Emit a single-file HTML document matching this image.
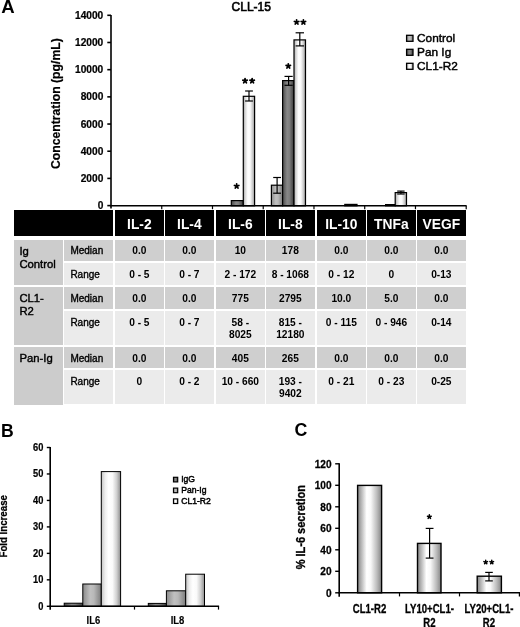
<!DOCTYPE html>
<html><head><meta charset="utf-8"><title>CLL-15 cytokine figure</title>
<style>
*{margin:0;padding:0;box-sizing:border-box}
html,body{width:520px;height:627px;overflow:hidden;background:#fff}
body{-webkit-font-smoothing:antialiased}
svg,.c{will-change:transform}
body{position:relative;font-family:"Liberation Sans", sans-serif;color:#000}
.c{position:absolute}
.h{color:#fff;font-weight:bold;font-size:13.8px;text-align:center;line-height:16px;padding-top:6.6px}
.d{font-weight:bold;font-size:10.2px;text-align:center;line-height:11.3px;padding-top:5.4px}
.l{font-size:10px;line-height:11.5px;padding-top:5.4px;padding-left:6.4px;-webkit-text-stroke:0.35px #000}
.d.p1{padding-top:6.4px}
.l.p1{padding-top:6.2px}
.g{font-size:11.3px;line-height:12.7px;padding-top:5.3px;padding-left:5.4px;-webkit-text-stroke:0.4px #000}
</style></head>
<body>
<svg width="520" height="627" viewBox="0 0 520 627" style="position:absolute;left:0;top:0" font-family='"Liberation Sans", sans-serif'>
<defs>
 <linearGradient id="gW" x1="0" y1="0" x2="1" y2="0">
  <stop offset="0" stop-color="#a8a8a8"/>
  <stop offset="0.18" stop-color="#d8d8d8"/>
  <stop offset="0.4" stop-color="#ffffff"/>
  <stop offset="0.6" stop-color="#fbfbfb"/>
  <stop offset="0.85" stop-color="#c4c4c4"/>
  <stop offset="1" stop-color="#909090"/>
 </linearGradient>
 <linearGradient id="gWB" x1="0" y1="0" x2="1" y2="0">
  <stop offset="0" stop-color="#c4c4c4"/>
  <stop offset="0.2" stop-color="#eeeeee"/>
  <stop offset="0.38" stop-color="#ffffff"/>
  <stop offset="0.58" stop-color="#fafafa"/>
  <stop offset="0.8" stop-color="#cfcfcf"/>
  <stop offset="1" stop-color="#8c8c8c"/>
 </linearGradient>
 <linearGradient id="gL" x1="0" y1="0" x2="1" y2="0">
  <stop offset="0" stop-color="#8a8a8a"/>
  <stop offset="0.4" stop-color="#c0c0c0"/>
  <stop offset="0.6" stop-color="#b8b8b8"/>
  <stop offset="1" stop-color="#7c7c7c"/>
 </linearGradient>
 <linearGradient id="gD" x1="0" y1="0" x2="1" y2="0">
  <stop offset="0" stop-color="#4a4a4a"/>
  <stop offset="0.4" stop-color="#888888"/>
  <stop offset="0.6" stop-color="#7e7e7e"/>
  <stop offset="1" stop-color="#3c3c3c"/>
 </linearGradient>
 <linearGradient id="gC" x1="0" y1="0" x2="1" y2="0">
  <stop offset="0" stop-color="#858585"/>
  <stop offset="0.15" stop-color="#b4b4b4"/>
  <stop offset="0.38" stop-color="#ffffff"/>
  <stop offset="0.55" stop-color="#f8f8f8"/>
  <stop offset="0.8" stop-color="#bdbdbd"/>
  <stop offset="1" stop-color="#858585"/>
 </linearGradient>
</defs>
<text x="1.2" y="12.6" font-size="18.6" font-weight="bold" text-anchor="start" fill="#000" >A</text>
<text x="251.3" y="10.6" font-size="12.0" font-weight="normal" text-anchor="middle" fill="#000" stroke="#000" stroke-width="0.6" >CLL-15</text>
<line x1="107.3" y1="205.6" x2="111" y2="205.6" stroke="#000" stroke-width="1.6"/>
<text transform="translate(103.3,209.2) scale(1,1.04)" font-size="10.2" font-weight="bold" text-anchor="end" fill="#000" stroke="#000" stroke-width="0.22" >0</text>
<line x1="107.3" y1="178.41" x2="111" y2="178.41" stroke="#000" stroke-width="1.6"/>
<text transform="translate(103.3,182.01) scale(1,1.04)" font-size="10.2" font-weight="bold" text-anchor="end" fill="#000" stroke="#000" stroke-width="0.22" >2000</text>
<line x1="107.3" y1="151.23" x2="111" y2="151.23" stroke="#000" stroke-width="1.6"/>
<text transform="translate(103.3,154.83) scale(1,1.04)" font-size="10.2" font-weight="bold" text-anchor="end" fill="#000" stroke="#000" stroke-width="0.22" >4000</text>
<line x1="107.3" y1="124.04" x2="111" y2="124.04" stroke="#000" stroke-width="1.6"/>
<text transform="translate(103.3,127.64) scale(1,1.04)" font-size="10.2" font-weight="bold" text-anchor="end" fill="#000" stroke="#000" stroke-width="0.22" >6000</text>
<line x1="107.3" y1="96.86" x2="111" y2="96.86" stroke="#000" stroke-width="1.6"/>
<text transform="translate(103.3,100.46) scale(1,1.04)" font-size="10.2" font-weight="bold" text-anchor="end" fill="#000" stroke="#000" stroke-width="0.22" >8000</text>
<line x1="107.3" y1="69.67" x2="111" y2="69.67" stroke="#000" stroke-width="1.6"/>
<text transform="translate(103.3,73.27) scale(1,1.04)" font-size="10.2" font-weight="bold" text-anchor="end" fill="#000" stroke="#000" stroke-width="0.22" >10000</text>
<line x1="107.3" y1="42.49" x2="111" y2="42.49" stroke="#000" stroke-width="1.6"/>
<text transform="translate(103.3,46.09) scale(1,1.04)" font-size="10.2" font-weight="bold" text-anchor="end" fill="#000" stroke="#000" stroke-width="0.22" >12000</text>
<line x1="107.3" y1="15.3" x2="111" y2="15.3" stroke="#000" stroke-width="1.6"/>
<text transform="translate(103.3,18.9) scale(1,1.04)" font-size="10.2" font-weight="bold" text-anchor="end" fill="#000" stroke="#000" stroke-width="0.22" >14000</text>
<text transform="translate(60.3,103.6) rotate(-90)" font-size="12.2" font-weight="bold" text-anchor="middle" stroke="#000" stroke-width="0.2">Concentration (pg/mL)</text>
<rect x="231.3" y="200.6" width="12.0" height="5.200000000000017" fill="url(#gD)" stroke="#000" stroke-width="1.2"/>
<rect x="243.3" y="96.3" width="11.299999999999983" height="109.50000000000001" fill="url(#gW)" stroke="#000" stroke-width="1.2"/>
<line x1="249.0" y1="91.0" x2="249.0" y2="101.0" stroke="#000" stroke-width="1.2"/>
<line x1="245.1" y1="91.0" x2="252.9" y2="91.0" stroke="#000" stroke-width="1.2"/>
<line x1="245.1" y1="101.0" x2="252.9" y2="101.0" stroke="#000" stroke-width="1.2"/>
<rect x="271.4" y="185.2" width="11.200000000000045" height="20.600000000000023" fill="url(#gL)" stroke="#000" stroke-width="1.2"/>
<line x1="277.1" y1="177.5" x2="277.1" y2="193.2" stroke="#000" stroke-width="1.2"/>
<line x1="273.20000000000005" y1="177.5" x2="281.0" y2="177.5" stroke="#000" stroke-width="1.2"/>
<line x1="273.20000000000005" y1="193.2" x2="281.0" y2="193.2" stroke="#000" stroke-width="1.2"/>
<rect x="282.6" y="80.6" width="11.399999999999977" height="125.20000000000002" fill="url(#gD)" stroke="#000" stroke-width="1.2"/>
<line x1="288.6" y1="76.4" x2="288.6" y2="85.3" stroke="#000" stroke-width="1.2"/>
<line x1="284.5" y1="76.4" x2="292.70000000000005" y2="76.4" stroke="#000" stroke-width="1.2"/>
<line x1="284.5" y1="85.3" x2="292.70000000000005" y2="85.3" stroke="#000" stroke-width="1.2"/>
<rect x="294.0" y="39.9" width="11.5" height="165.9" fill="url(#gW)" stroke="#000" stroke-width="1.2"/>
<line x1="299.8" y1="32.8" x2="299.8" y2="45.9" stroke="#000" stroke-width="1.2"/>
<line x1="295.6" y1="32.8" x2="304.0" y2="32.8" stroke="#000" stroke-width="1.2"/>
<line x1="295.6" y1="45.9" x2="304.0" y2="45.9" stroke="#000" stroke-width="1.2"/>
<rect x="344.8" y="204.4" width="12.199999999999989" height="1.4000000000000057" fill="url(#gW)" stroke="#000" stroke-width="1.2"/>
<rect x="385.6" y="204.6" width="9.599999999999966" height="1.200000000000017" fill="url(#gD)" stroke="#000" stroke-width="1.2"/>
<rect x="395.2" y="192.6" width="11.300000000000011" height="13.200000000000017" fill="url(#gW)" stroke="#000" stroke-width="1.2"/>
<line x1="400.9" y1="191.1" x2="400.9" y2="194.0" stroke="#000" stroke-width="1.2"/>
<line x1="397.2" y1="191.1" x2="404.59999999999997" y2="191.1" stroke="#000" stroke-width="1.2"/>
<line x1="397.2" y1="194.0" x2="404.59999999999997" y2="194.0" stroke="#000" stroke-width="1.2"/>
<path d="M236.65,186.20L236.65,183.90M236.65,186.20L238.84,185.49M236.65,186.20L238.00,188.06M236.65,186.20L235.30,188.06M236.65,186.20L234.46,185.49" stroke="#000" stroke-width="1.77" stroke-linecap="round" fill="none"/>
<path d="M245.05,80.90L245.05,78.60M245.05,80.90L247.24,80.19M245.05,80.90L246.40,82.76M245.05,80.90L243.70,82.76M245.05,80.90L242.86,80.19" stroke="#000" stroke-width="1.77" stroke-linecap="round" fill="none"/>
<path d="M252.15,80.90L252.15,78.60M252.15,80.90L254.34,80.19M252.15,80.90L253.50,82.76M252.15,80.90L250.80,82.76M252.15,80.90L249.96,80.19" stroke="#000" stroke-width="1.77" stroke-linecap="round" fill="none"/>
<path d="M288.30,66.10L288.30,63.80M288.30,66.10L290.49,65.39M288.30,66.10L289.65,67.96M288.30,66.10L286.95,67.96M288.30,66.10L286.11,65.39" stroke="#000" stroke-width="1.77" stroke-linecap="round" fill="none"/>
<path d="M296.60,22.20L296.60,19.90M296.60,22.20L298.79,21.49M296.60,22.20L297.95,24.06M296.60,22.20L295.25,24.06M296.60,22.20L294.41,21.49" stroke="#000" stroke-width="1.77" stroke-linecap="round" fill="none"/>
<path d="M303.40,22.20L303.40,19.90M303.40,22.20L305.59,21.49M303.40,22.20L304.75,24.06M303.40,22.20L302.05,24.06M303.40,22.20L301.21,21.49" stroke="#000" stroke-width="1.77" stroke-linecap="round" fill="none"/>
<line x1="111" y1="15.0" x2="111" y2="208.4" stroke="#000" stroke-width="1.6"/>
<line x1="110.2" y1="205.8" x2="466.6" y2="205.8" stroke="#000" stroke-width="1.6"/>
<line x1="161.74" y1="205.8" x2="161.74" y2="209.2" stroke="#000" stroke-width="1.2"/>
<line x1="212.49" y1="205.8" x2="212.49" y2="209.2" stroke="#000" stroke-width="1.2"/>
<line x1="263.23" y1="205.8" x2="263.23" y2="209.2" stroke="#000" stroke-width="1.2"/>
<line x1="313.97" y1="205.8" x2="313.97" y2="209.2" stroke="#000" stroke-width="1.2"/>
<line x1="364.71" y1="205.8" x2="364.71" y2="209.2" stroke="#000" stroke-width="1.2"/>
<line x1="415.46" y1="205.8" x2="415.46" y2="209.2" stroke="#000" stroke-width="1.2"/>
<line x1="466.2" y1="205.8" x2="466.2" y2="209.2" stroke="#000" stroke-width="1.2"/>
<rect x="406.6" y="35.3" width="6.4" height="6.0" fill="url(#gL)" stroke="#000" stroke-width="1.3"/>
<text x="417.1" y="41.9" font-size="11.8" font-weight="normal" text-anchor="start" fill="#000" stroke="#000" stroke-width="0.45" >Control</text>
<rect x="406.6" y="49.3" width="6.4" height="6.0" fill="url(#gD)" stroke="#000" stroke-width="1.3"/>
<text x="417.1" y="55.9" font-size="11.8" font-weight="normal" text-anchor="start" fill="#000" stroke="#000" stroke-width="0.45" >Pan Ig</text>
<rect x="406.6" y="63.3" width="6.4" height="6.0" fill="url(#gW)" stroke="#000" stroke-width="1.3"/>
<text x="417.1" y="69.89999999999999" font-size="11.8" font-weight="normal" text-anchor="start" fill="#000" stroke="#000" stroke-width="0.45" >CL1-R2</text>
<text x="0.9" y="437.0" font-size="17.6" font-weight="bold" text-anchor="start" fill="#000" >B</text>
<line x1="46.8" y1="606.3" x2="50.2" y2="606.3" stroke="#000" stroke-width="1.4"/>
<text transform="translate(43.4,609.8) scale(1,1.15)" font-size="9.3" font-weight="bold" text-anchor="end" fill="#000" stroke="#000" stroke-width="0.2" >0</text>
<line x1="46.8" y1="579.83" x2="50.2" y2="579.83" stroke="#000" stroke-width="1.4"/>
<text transform="translate(43.4,583.33) scale(1,1.15)" font-size="9.3" font-weight="bold" text-anchor="end" fill="#000" stroke="#000" stroke-width="0.2" >10</text>
<line x1="46.8" y1="553.37" x2="50.2" y2="553.37" stroke="#000" stroke-width="1.4"/>
<text transform="translate(43.4,556.87) scale(1,1.15)" font-size="9.3" font-weight="bold" text-anchor="end" fill="#000" stroke="#000" stroke-width="0.2" >20</text>
<line x1="46.8" y1="526.9" x2="50.2" y2="526.9" stroke="#000" stroke-width="1.4"/>
<text transform="translate(43.4,530.4) scale(1,1.15)" font-size="9.3" font-weight="bold" text-anchor="end" fill="#000" stroke="#000" stroke-width="0.2" >30</text>
<line x1="46.8" y1="500.43" x2="50.2" y2="500.43" stroke="#000" stroke-width="1.4"/>
<text transform="translate(43.4,503.93) scale(1,1.15)" font-size="9.3" font-weight="bold" text-anchor="end" fill="#000" stroke="#000" stroke-width="0.2" >40</text>
<line x1="46.8" y1="473.97" x2="50.2" y2="473.97" stroke="#000" stroke-width="1.4"/>
<text transform="translate(43.4,477.47) scale(1,1.15)" font-size="9.3" font-weight="bold" text-anchor="end" fill="#000" stroke="#000" stroke-width="0.2" >50</text>
<line x1="46.8" y1="447.5" x2="50.2" y2="447.5" stroke="#000" stroke-width="1.4"/>
<text transform="translate(43.4,451.0) scale(1,1.15)" font-size="9.3" font-weight="bold" text-anchor="end" fill="#000" stroke="#000" stroke-width="0.2" >60</text>
<text transform="translate(7.4,526.3) rotate(-90) scale(1,1.12)" font-size="9.7" font-weight="bold" text-anchor="middle" stroke="#000" stroke-width="0.25">Fold Increase</text>
<rect x="64.2" y="603.2" width="18.599999999999994" height="3.099999999999909" fill="url(#gD)" stroke="#000" stroke-width="1.0"/>
<rect x="82.8" y="584.0" width="18.5" height="22.299999999999955" fill="url(#gL)" stroke="#000" stroke-width="1.0"/>
<rect x="101.3" y="471.6" width="19.299999999999997" height="134.69999999999993" fill="url(#gWB)" stroke="#000" stroke-width="1.0"/>
<rect x="148.3" y="603.4" width="18.099999999999994" height="2.8999999999999773" fill="url(#gD)" stroke="#000" stroke-width="1.0"/>
<rect x="166.4" y="590.8" width="19.299999999999983" height="15.5" fill="url(#gL)" stroke="#000" stroke-width="1.0"/>
<rect x="185.7" y="574.2" width="18.80000000000001" height="32.09999999999991" fill="url(#gWB)" stroke="#000" stroke-width="1.0"/>
<line x1="50.2" y1="447.0" x2="50.2" y2="609.8" stroke="#000" stroke-width="1.6"/>
<line x1="49.400000000000006" y1="606.3" x2="219.1" y2="606.3" stroke="#000" stroke-width="1.6"/>
<line x1="134.5" y1="606.3" x2="134.5" y2="609.6" stroke="#000" stroke-width="1.2"/>
<line x1="218.5" y1="606.3" x2="218.5" y2="609.6" stroke="#000" stroke-width="1.2"/>
<text transform="translate(93.4,623.6) scale(1,1.18)" font-size="9.5" font-weight="bold" text-anchor="middle" fill="#000" stroke="#000" stroke-width="0.12" >IL6</text>
<text transform="translate(177.5,623.6) scale(1,1.18)" font-size="9.5" font-weight="bold" text-anchor="middle" fill="#000" stroke="#000" stroke-width="0.12" >IL8</text>
<rect x="173.5" y="477.3" width="4.2" height="4.6" fill="url(#gD)" stroke="#000" stroke-width="1.2"/>
<text transform="translate(181.2,482.2) scale(1,1.15)" font-size="8.6" font-weight="normal" text-anchor="start" fill="#000" stroke="#000" stroke-width="0.45" >IgG</text>
<rect x="173.5" y="488.1" width="4.2" height="4.6" fill="url(#gL)" stroke="#000" stroke-width="1.2"/>
<text transform="translate(181.2,493.0) scale(1,1.15)" font-size="8.6" font-weight="normal" text-anchor="start" fill="#000" stroke="#000" stroke-width="0.45" >Pan-Ig</text>
<rect x="173.5" y="498.90000000000003" width="4.2" height="4.6" fill="url(#gW)" stroke="#000" stroke-width="1.2"/>
<text transform="translate(181.2,503.8) scale(1,1.15)" font-size="8.6" font-weight="normal" text-anchor="start" fill="#000" stroke="#000" stroke-width="0.45" >CL1-R2</text>
<text x="294.6" y="435.6" font-size="17.8" font-weight="bold" text-anchor="start" fill="#000" >C</text>
<line x1="335.2" y1="592.8" x2="339.2" y2="592.8" stroke="#000" stroke-width="1.4"/>
<text transform="translate(331.6,596.7) scale(1,1.08)" font-size="10.1" font-weight="bold" text-anchor="end" fill="#000" stroke="#000" stroke-width="0.25" >0</text>
<line x1="335.2" y1="571.3" x2="339.2" y2="571.3" stroke="#000" stroke-width="1.4"/>
<text transform="translate(331.6,575.2) scale(1,1.08)" font-size="10.1" font-weight="bold" text-anchor="end" fill="#000" stroke="#000" stroke-width="0.25" >20</text>
<line x1="335.2" y1="549.8" x2="339.2" y2="549.8" stroke="#000" stroke-width="1.4"/>
<text transform="translate(331.6,553.7) scale(1,1.08)" font-size="10.1" font-weight="bold" text-anchor="end" fill="#000" stroke="#000" stroke-width="0.25" >40</text>
<line x1="335.2" y1="528.3" x2="339.2" y2="528.3" stroke="#000" stroke-width="1.4"/>
<text transform="translate(331.6,532.2) scale(1,1.08)" font-size="10.1" font-weight="bold" text-anchor="end" fill="#000" stroke="#000" stroke-width="0.25" >60</text>
<line x1="335.2" y1="506.8" x2="339.2" y2="506.8" stroke="#000" stroke-width="1.4"/>
<text transform="translate(331.6,510.7) scale(1,1.08)" font-size="10.1" font-weight="bold" text-anchor="end" fill="#000" stroke="#000" stroke-width="0.25" >80</text>
<line x1="335.2" y1="485.3" x2="339.2" y2="485.3" stroke="#000" stroke-width="1.4"/>
<text transform="translate(331.6,489.2) scale(1,1.08)" font-size="10.1" font-weight="bold" text-anchor="end" fill="#000" stroke="#000" stroke-width="0.25" >100</text>
<line x1="335.2" y1="463.8" x2="339.2" y2="463.8" stroke="#000" stroke-width="1.4"/>
<text transform="translate(331.6,467.7) scale(1,1.08)" font-size="10.1" font-weight="bold" text-anchor="end" fill="#000" stroke="#000" stroke-width="0.25" >120</text>
<text transform="translate(305.2,527.2) rotate(-90) scale(1,1.08)" font-size="11.0" font-weight="bold" text-anchor="middle" stroke="#000" stroke-width="0.3">% IL-6 secretion</text>
<rect x="357.6" y="485.4" width="24.0" height="107.39999999999998" fill="url(#gC)" stroke="#000" stroke-width="1.4"/>
<rect x="417.5" y="543.4" width="23.5" height="49.39999999999998" fill="url(#gC)" stroke="#000" stroke-width="1.4"/>
<line x1="429.6" y1="528.4" x2="429.6" y2="558.1" stroke="#000" stroke-width="1.2"/>
<line x1="425.70000000000005" y1="528.4" x2="433.5" y2="528.4" stroke="#000" stroke-width="1.2"/>
<line x1="425.70000000000005" y1="558.1" x2="433.5" y2="558.1" stroke="#000" stroke-width="1.2"/>
<rect x="477.2" y="576.2" width="24.19999999999999" height="16.59999999999991" fill="url(#gC)" stroke="#000" stroke-width="1.4"/>
<line x1="489.0" y1="572.4" x2="489.0" y2="580.9" stroke="#000" stroke-width="1.2"/>
<line x1="485.2" y1="572.4" x2="492.8" y2="572.4" stroke="#000" stroke-width="1.2"/>
<line x1="485.2" y1="580.9" x2="492.8" y2="580.9" stroke="#000" stroke-width="1.2"/>
<path d="M429.35,516.80L429.35,514.81M429.35,516.80L431.24,516.19M429.35,516.80L430.52,518.41M429.35,516.80L428.18,518.41M429.35,516.80L427.46,516.19" stroke="#000" stroke-width="1.53" stroke-linecap="round" fill="none"/>
<path d="M485.70,562.20L485.70,560.29M485.70,562.20L487.52,561.61M485.70,562.20L486.82,563.75M485.70,562.20L484.58,563.75M485.70,562.20L483.88,561.61" stroke="#000" stroke-width="1.47" stroke-linecap="round" fill="none"/>
<path d="M491.75,562.20L491.75,560.29M491.75,562.20L493.57,561.61M491.75,562.20L492.87,563.75M491.75,562.20L490.63,563.75M491.75,562.20L489.93,561.61" stroke="#000" stroke-width="1.47" stroke-linecap="round" fill="none"/>
<line x1="339.2" y1="463.2" x2="339.2" y2="596.8" stroke="#000" stroke-width="1.6"/>
<line x1="338.4" y1="592.8" x2="520" y2="592.8" stroke="#000" stroke-width="1.6"/>
<line x1="399.5" y1="592.8" x2="399.5" y2="596.4" stroke="#000" stroke-width="1.2"/>
<line x1="459.5" y1="592.8" x2="459.5" y2="596.4" stroke="#000" stroke-width="1.2"/>
<line x1="519.4" y1="592.8" x2="519.4" y2="596.4" stroke="#000" stroke-width="1.2"/>
<text transform="translate(369.5,612.5) scale(1,1.3)" font-size="9.6" font-weight="bold" text-anchor="middle" fill="#000" stroke="#000" stroke-width="0.25" >CL1-R2</text>
<text transform="translate(429.5,612.5) scale(1,1.3)" font-size="9.6" font-weight="bold" text-anchor="middle" fill="#000" stroke="#000" stroke-width="0.25" >LY10+CL1-</text>
<text transform="translate(429.5,627.3) scale(1,1.3)" font-size="9.6" font-weight="bold" text-anchor="middle" fill="#000" stroke="#000" stroke-width="0.25" >R2</text>
<text transform="translate(489.0,612.5) scale(1,1.3)" font-size="9.6" font-weight="bold" text-anchor="middle" fill="#000" stroke="#000" stroke-width="0.25" >LY20+CL1-</text>
<text transform="translate(489.0,627.3) scale(1,1.3)" font-size="9.6" font-weight="bold" text-anchor="middle" fill="#000" stroke="#000" stroke-width="0.25" >R2</text></svg>
<div class="c " style="left:14px;top:210.0px;width:99.3px;height:25.599999999999994px;background:#000"></div><div class="c h" style="left:115.1px;top:210.0px;width:48.7px;height:25.599999999999994px;background:#000">IL-2</div><div class="c h" style="left:165.48px;top:210.0px;width:48.7px;height:25.599999999999994px;background:#000">IL-4</div><div class="c h" style="left:215.86px;top:210.0px;width:48.7px;height:25.599999999999994px;background:#000">IL-6</div><div class="c h" style="left:266.24px;top:210.0px;width:48.7px;height:25.599999999999994px;background:#000">IL-8</div><div class="c h" style="left:316.62px;top:210.0px;width:48.7px;height:25.599999999999994px;background:#000">IL-10</div><div class="c h" style="left:367.0px;top:210.0px;width:48.7px;height:25.599999999999994px;background:#000">TNFa</div><div class="c h" style="left:417.38px;top:210.0px;width:48.7px;height:25.599999999999994px;background:#000">VEGF</div><div class="c g" style="left:14px;top:240.0px;width:48.5px;height:44.8px;background:#cccccc">Ig<br>Control</div><div class="c g" style="left:14px;top:287.0px;width:48.5px;height:58.0px;background:#cccccc">CL1-<br>R2</div><div class="c g" style="left:14px;top:346.7px;width:48.5px;height:57.8px;background:#cccccc">Pan-Ig</div><div class="c l" style="left:64.3px;top:240.0px;width:49.0px;height:20.9px;background:#cfcfcf">Median</div><div class="c d" style="left:115.1px;top:240.0px;width:48.7px;height:20.9px;background:#cfcfcf">0.0</div><div class="c d" style="left:165.48px;top:240.0px;width:48.7px;height:20.9px;background:#cfcfcf">0.0</div><div class="c d" style="left:215.86px;top:240.0px;width:48.7px;height:20.9px;background:#cfcfcf">10</div><div class="c d" style="left:266.24px;top:240.0px;width:48.7px;height:20.9px;background:#cfcfcf">178</div><div class="c d" style="left:316.62px;top:240.0px;width:48.7px;height:20.9px;background:#cfcfcf">0.0</div><div class="c d" style="left:367.0px;top:240.0px;width:48.7px;height:20.9px;background:#cfcfcf">0.0</div><div class="c d" style="left:417.38px;top:240.0px;width:48.7px;height:20.9px;background:#cfcfcf">0.0</div><div class="c l p1" style="left:64.3px;top:263.0px;width:49.0px;height:21.8px;background:#ebebeb">Range</div><div class="c d p1" style="left:115.1px;top:263.0px;width:48.7px;height:21.8px;background:#ebebeb">0 - 5</div><div class="c d p1" style="left:165.48px;top:263.0px;width:48.7px;height:21.8px;background:#ebebeb">0 - 7</div><div class="c d p1" style="left:215.86px;top:263.0px;width:48.7px;height:21.8px;background:#ebebeb">2 - 172</div><div class="c d p1" style="left:266.24px;top:263.0px;width:48.7px;height:21.8px;background:#ebebeb">8 - 1068</div><div class="c d p1" style="left:316.62px;top:263.0px;width:48.7px;height:21.8px;background:#ebebeb">0 - 12</div><div class="c d p1" style="left:367.0px;top:263.0px;width:48.7px;height:21.8px;background:#ebebeb">0</div><div class="c d p1" style="left:417.38px;top:263.0px;width:48.7px;height:21.8px;background:#ebebeb">0-13</div><div class="c l p1" style="left:64.3px;top:287.0px;width:49.0px;height:21.8px;background:#cfcfcf">Median</div><div class="c d p1" style="left:115.1px;top:287.0px;width:48.7px;height:21.8px;background:#cfcfcf">0.0</div><div class="c d p1" style="left:165.48px;top:287.0px;width:48.7px;height:21.8px;background:#cfcfcf">0.0</div><div class="c d p1" style="left:215.86px;top:287.0px;width:48.7px;height:21.8px;background:#cfcfcf">775</div><div class="c d p1" style="left:266.24px;top:287.0px;width:48.7px;height:21.8px;background:#cfcfcf">2795</div><div class="c d p1" style="left:316.62px;top:287.0px;width:48.7px;height:21.8px;background:#cfcfcf">10.0</div><div class="c d p1" style="left:367.0px;top:287.0px;width:48.7px;height:21.8px;background:#cfcfcf">5.0</div><div class="c d p1" style="left:417.38px;top:287.0px;width:48.7px;height:21.8px;background:#cfcfcf">0.0</div><div class="c l p1" style="left:64.3px;top:310.9px;width:49.0px;height:34.1px;background:#ebebeb">Range</div><div class="c d p1" style="left:115.1px;top:310.9px;width:48.7px;height:34.1px;background:#ebebeb">0 - 5</div><div class="c d p1" style="left:165.48px;top:310.9px;width:48.7px;height:34.1px;background:#ebebeb">0 - 7</div><div class="c d p1" style="left:215.86px;top:310.9px;width:48.7px;height:34.1px;background:#ebebeb">58 -<br>8025</div><div class="c d p1" style="left:266.24px;top:310.9px;width:48.7px;height:34.1px;background:#ebebeb">815 -<br>12180</div><div class="c d p1" style="left:316.62px;top:310.9px;width:48.7px;height:34.1px;background:#ebebeb">0 - 115</div><div class="c d p1" style="left:367.0px;top:310.9px;width:48.7px;height:34.1px;background:#ebebeb">0 - 946</div><div class="c d p1" style="left:417.38px;top:310.9px;width:48.7px;height:34.1px;background:#ebebeb">0-14</div><div class="c l p1" style="left:64.3px;top:346.7px;width:49.0px;height:21.4px;background:#cfcfcf">Median</div><div class="c d p1" style="left:115.1px;top:346.7px;width:48.7px;height:21.4px;background:#cfcfcf">0.0</div><div class="c d p1" style="left:165.48px;top:346.7px;width:48.7px;height:21.4px;background:#cfcfcf">0.0</div><div class="c d p1" style="left:215.86px;top:346.7px;width:48.7px;height:21.4px;background:#cfcfcf">405</div><div class="c d p1" style="left:266.24px;top:346.7px;width:48.7px;height:21.4px;background:#cfcfcf">265</div><div class="c d p1" style="left:316.62px;top:346.7px;width:48.7px;height:21.4px;background:#cfcfcf">0.0</div><div class="c d p1" style="left:367.0px;top:346.7px;width:48.7px;height:21.4px;background:#cfcfcf">0.0</div><div class="c d p1" style="left:417.38px;top:346.7px;width:48.7px;height:21.4px;background:#cfcfcf">0.0</div><div class="c l p1" style="left:64.3px;top:370.2px;width:49.0px;height:34.3px;background:#ebebeb">Range</div><div class="c d p1" style="left:115.1px;top:370.2px;width:48.7px;height:34.3px;background:#ebebeb">0</div><div class="c d p1" style="left:165.48px;top:370.2px;width:48.7px;height:34.3px;background:#ebebeb">0 - 2</div><div class="c d p1" style="left:215.86px;top:370.2px;width:48.7px;height:34.3px;background:#ebebeb">10 - 660</div><div class="c d p1" style="left:266.24px;top:370.2px;width:48.7px;height:34.3px;background:#ebebeb">193 -<br>9402</div><div class="c d p1" style="left:316.62px;top:370.2px;width:48.7px;height:34.3px;background:#ebebeb">0 - 21</div><div class="c d p1" style="left:367.0px;top:370.2px;width:48.7px;height:34.3px;background:#ebebeb">0 - 23</div><div class="c d p1" style="left:417.38px;top:370.2px;width:48.7px;height:34.3px;background:#ebebeb">0-25</div>
</body></html>
